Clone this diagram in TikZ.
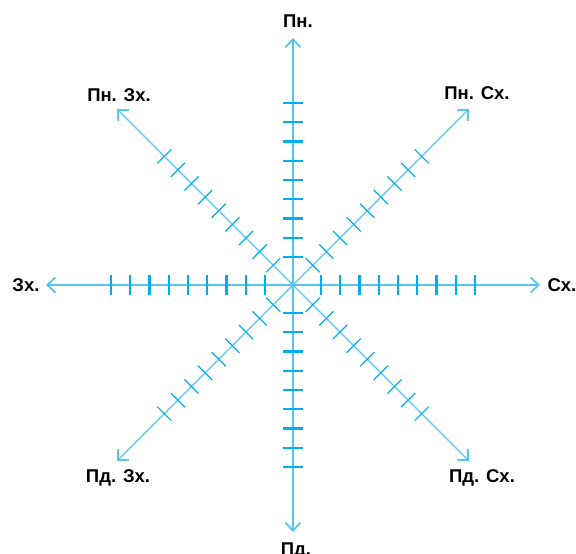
\documentclass[tikz,border=0pt]{standalone}
\usepackage{fontspec}
\setmainfont{Liberation Sans}
\usetikzlibrary{arrows.meta}

\definecolor{axisblue}{RGB}{88,196,240}
\definecolor{tickblue}{RGB}{0,174,239}

\begin{document}
\begin{tikzpicture}[x=1pt, y=1pt, line cap=butt,
    axisline/.style={axisblue, line width=1.6pt,
        -{Straight Barb[length=8pt, width=15pt, line width=1.8pt]}},
    diagline/.style={axisblue, line width=1.1pt,
        -{Straight Barb[length=8pt, width=15pt, line width=1.8pt]}},
    axistick/.style={tickblue, line width=2.4pt},
    diagtick/.style={tickblue, line width=1.2pt},
    dirlabel/.style={anchor=base, inner sep=0pt, font=\fontsize{18.5}{20}\selectfont\bfseries}]

    % --- frame of the page ---
    \clip (-293,-269) rectangle (283,285);
    \coordinate (o) at (0,0);

    % --- 1. Main axes with ticks ---
    \foreach \ang/\tipname in {0/sx, 90/pn, 180/zx, 270/pd} {
        \coordinate (\tipname) at (\ang:247);
        \draw[axisline] (o) -- (\tipname);
        \foreach \k in {0,...,8}
            \draw[axistick, rotate=\ang] ({28+19.25*\k},-10) -- ({28+19.25*\k},10);
    }

    % --- 2. Diagonal axes with ticks ---
    \foreach \ang/\tipname in {45/pnsx, 135/pnzx, 225/pdzx, 315/pdsx} {
        \coordinate (\tipname) at (\ang:249);
        \draw[diagline] (o) -- (\tipname);
        \foreach \k in {0,...,8}
            \draw[diagtick, rotate=\ang] ({28+19.25*\k},-10) -- ({28+19.25*\k},10);
    }

    % --- 3. Direction labels ---
    \node[dirlabel] (lpn)   at (5,257)     {Пн.};
    \node[dirlabel] (lpnsx) at (184,185)   {Пн. Сх.};
    \node[dirlabel] (lpnzx) at (-174,183)  {Пн. Зх.};
    \node[dirlabel] (lzx)   at (-267,-7)   {Зх.};
    \node[dirlabel] (lsx)   at (269,-7)    {Сх.};
    \node[dirlabel] (lpdzx) at (-175,-197) {Пд. Зх.};
    \node[dirlabel] (lpdsx) at (189,-197)  {Пд. Сх.};
    \node[dirlabel] (lpd)   at (3,-270)    {Пд.};
\end{tikzpicture}
\end{document}
